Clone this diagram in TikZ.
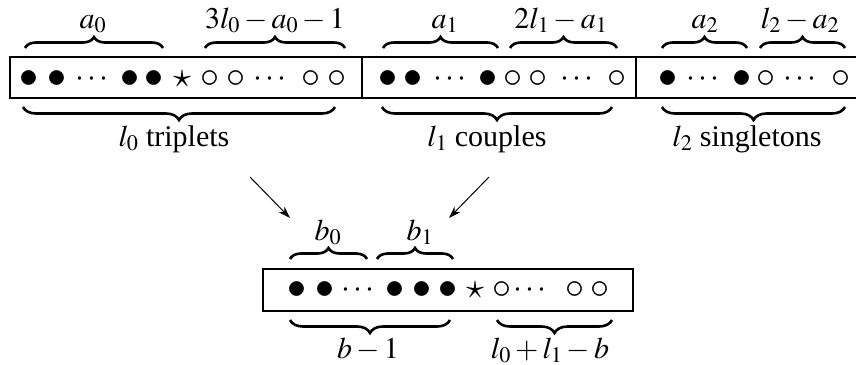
\documentclass[tikz,border=0pt]{standalone}
\usepackage{mathptmx}
\usepackage[no-math]{fontspec}
\setmainfont{Liberation Serif}
\usetikzlibrary{decorations.pathreplacing,arrows.meta}
\newcommand\symF{\fontsize{38}{40}\selectfont$\bullet$}
\newcommand\symO{\fontsize{38}{40}\selectfont$\circ$}
\newcommand\symC{\fontsize{32}{36}\selectfont\raisebox{1.5pt}{$\cdots$}}
\newcommand\symS{\fontsize{36}{40}\selectfont$\star$}
\tikzset{
  big/.style={font=\fontsize{30}{36}\selectfont},
  sym/.style={inner sep=0pt,anchor=base},
  lbl/.style={big,inner sep=0pt,anchor=base},
  boxline/.style={line width=2.6pt},
  ob/.style={decorate,decoration={brace,amplitude=11pt},line width=2.6pt},
  ub/.style={decorate,decoration={brace,amplitude=13pt,mirror},line width=2.6pt},
  arr/.style={line width=1pt,-{Stealth[length=12pt,width=8pt]}}
}
\begin{document}
\begin{tikzpicture}[x=1pt,y=-1pt]
\useasboundingbox (0,0) rectangle (856,364);
% top box (right side cut)
\draw[boxline] (870,57) -- (10,57) -- (10,98) -- (870,98);
\draw[boxline] (362,57) -- (362,98);
\draw[boxline] (636,57) -- (636,98);
% top row symbols
\foreach \x/\s [count=\i] in {29/F,57/F,92/C,130/F,154/F,182/S,210/O,236/O,270/C,311/O,337/O,
  388/F,413/F,450/C,488/F,513/O,538/O,577/C,617/O,
  668/F,703/C,742/F,766/O,800/C,841/O}
  \node[sym] (t\i) at (\x,87.5) {\csname sym\s\endcsname};
% top overbraces
\draw[ob] (25,48) -- (163,48);
\draw[ob] (205,48) -- (345,48);
\draw[ob] (383,48) -- (498,48);
\draw[ob] (510,48) -- (617,48);
\draw[ob] (662,48) -- (747,48);
\draw[ob] (760,48) -- (845,48);
\node[lbl] (la0) at (93,28) {$a_0$};
\node[lbl] (lr0) at (275,28) {$3l_0-a_0-1$};
\node[lbl] (la1) at (445,28) {$a_1$};
\node[lbl] (lr1) at (561,28) {$2l_1-a_1$};
\node[lbl] (la2) at (705,28) {$a_2$};
\node[lbl] (lr2) at (800,28) {$l_2-a_2$};
% top underbraces
\draw[ub] (23,107) -- (335,107);
\draw[ub] (382,107) -- (612,107);
\draw[ub] (662,107) -- (845,107);
\node[lbl] (trip) at (174,146) {$l_0$ triplets};
\node[lbl] (coup) at (487,146) {$l_1$ couples};
\node[lbl] (sing) at (747,146) {$l_2$ singletons};
% arrows
\coordinate (s1) at (250,177);
\coordinate (e1) at (290,218);
\coordinate (s2) at (489,177);
\coordinate (e2) at (449,218);
\draw[arr] (s1) -- (e1);
\draw[arr] (s2) -- (e2);
% bottom box
\draw[boxline] (263,269) rectangle (633,311);
\foreach \x/\s [count=\i] in {297/F,325/F,358/C,395/F,422/F,448/F,475/S,502/O,530/C,575/O,600/O}
  \node[sym] (b\i) at (\x,298.5) {\csname sym\s\endcsname};
\draw[ob] (290,259) -- (367,259);
\draw[ob] (377,259) -- (453,259);
\node[lbl] (lb0) at (328,240) {$b_0$};
\node[lbl] (lb1) at (420,240) {$b_1$};
\draw[ub] (290,320) -- (450,320);
\draw[ub] (497,320) -- (612,320);
\node[lbl] (lbm) at (368,358) {$b-1$};
\node[lbl] (lbr) at (550,358) {$l_0+l_1-b$};
\end{tikzpicture}
\end{document}
